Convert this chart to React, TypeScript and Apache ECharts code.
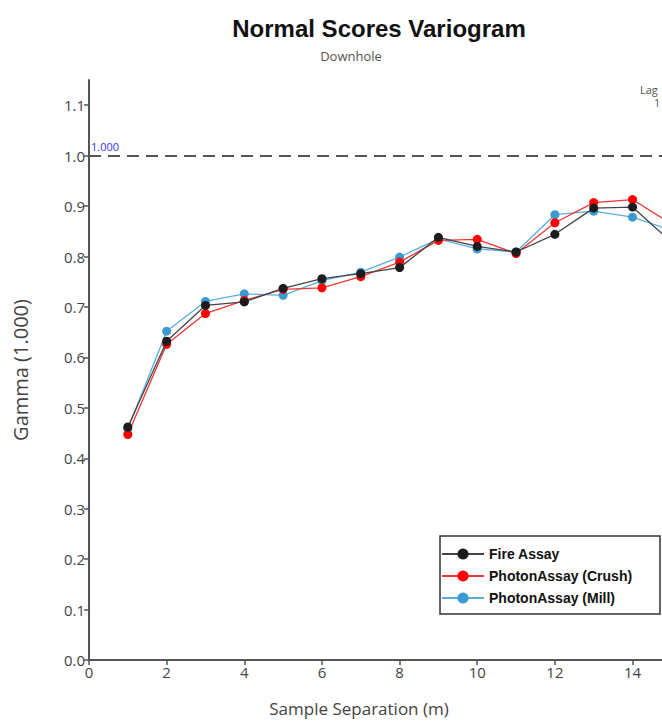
import React, { useEffect, useRef } from "react";
import * as echarts from "echarts";

const lags = [1, 2, 3, 4, 5, 6, 7, 8, 9, 10, 11, 12, 13, 14, 15];
const fireAssay = [0.462, 0.632, 0.703, 0.710, 0.737, 0.756, 0.766, 0.778, 0.838, 0.820, 0.809, 0.844, 0.896, 0.898, 0.829];
const photonCrush = [0.447, 0.626, 0.687, 0.713, 0.735, 0.738, 0.760, 0.789, 0.832, 0.834, 0.806, 0.867, 0.907, 0.913, 0.865];
const photonMill = [0.458, 0.652, 0.711, 0.726, 0.723, 0.752, 0.769, 0.799, 0.835, 0.815, 0.809, 0.883, 0.890, 0.878, 0.852];
const yTicks = [0, 0.1, 0.2, 0.3, 0.4, 0.5, 0.6, 0.7, 0.8, 0.9, 1.0, 1.1];
const xTicks = [0, 2, 4, 6, 8, 10, 12, 14];
const sill = 1.0;

const FONT = "'Open Sans', 'Noto Sans', sans-serif";
const BOLD = "'Liberation Sans', Arial, sans-serif";

export default function App() {
  const ref = useRef<HTMLDivElement>(null);
  useEffect(() => {
    if (!ref.current) return;
    const chart = echarts.init(ref.current, undefined, { renderer: "svg" });
    const mk = (name: string, data: number[], color: string, lineColor: string, z: number) => ({
      name,
      type: "line",
      data: lags.map((l, i) => [l, data[i]]),
      symbol: "circle",
      symbolSize: 9,
      z,
      itemStyle: { color },
      lineStyle: { color: lineColor, width: 1.3 },
    });
    chart.setOption({
      animation: false,
      backgroundColor: "#fff",
      grid: { left: 89, top: 80, height: 580, width: 660 },
      xAxis: {
        type: "value",
        min: 0,
        max: 17,
        interval: 2,
        splitLine: { show: false },
        axisLine: { onZero: false, lineStyle: { color: "#555", width: 2 } },
        axisTick: { show: true, length: 5, customValues: xTicks, lineStyle: { color: "#555", width: 1.5 } },
        axisLabel: { customValues: xTicks, color: "#444", fontSize: 15, fontFamily: FONT, margin: 4 },
      },
      yAxis: {
        type: "value",
        min: 0,
        max: 1.15,
        interval: 0.1,
        splitLine: { show: false },
        axisLine: { show: true, lineStyle: { color: "#555", width: 2 } },
        axisTick: { show: true, length: 5, customValues: yTicks, lineStyle: { color: "#555", width: 1.5 } },
        axisLabel: {
          customValues: yTicks,
          color: "#444",
          fontSize: 15,
          fontFamily: FONT,
          margin: 4,
          formatter: (v: number) => v.toFixed(1),
        },
      },
      legend: {
        left: 441,
        top: 547,
        orient: "vertical",
        itemWidth: 42,
        itemHeight: 14,
        itemGap: 8,
        padding: 0,
        data: ["Fire Assay", "PhotonAssay (Crush)", "PhotonAssay (Mill)"],
        textStyle: { fontFamily: BOLD, fontWeight: "bold", fontSize: 14, color: "#111" },
      },
      graphic: [
        { type: "text", style: { text: "Normal Scores Variogram", x: 379, y: 16, align: "center", font: `bold 24px ${BOLD}`, fill: "#111" } },
        { type: "text", style: { text: "Downhole", x: 351, y: 49, align: "center", font: `13px ${FONT}`, fill: "#555" } },
        { type: "text", style: { text: "Sample Separation (m)", x: 359, y: 700, align: "center", font: `17px ${FONT}`, fill: "#444" } },
        { type: "text", x: 20, y: 370, rotation: Math.PI / 2, style: { text: "Gamma (1.000)", x: 0, y: 0, align: "center", verticalAlign: "middle", font: `20px ${FONT}`, fill: "#444" } },
        { type: "text", style: { text: "Lag", x: 640, y: 84, font: `11px ${FONT}`, fill: "#555" } },
        { type: "text", style: { text: "1", x: 654, y: 97, font: `11px ${FONT}`, fill: "#555" } },
        { type: "rect", shape: { x: 440, y: 536, width: 220, height: 78 }, style: { fill: "none", stroke: "#333", lineWidth: 1.5 }, z: 10 },
      ],
      series: [
        {
          ...mk("PhotonAssay (Mill)", photonMill, "#3b9ad0", "#5aaede", 2),
          markLine: {
            silent: true,
            symbol: "none",
            data: [{ yAxis: sill }],
            lineStyle: { color: "#555", type: [12, 7], width: 2 },
            label: { show: true, position: "insideStartTop", formatter: "1.000", color: "#3333ff", fontSize: 11, fontFamily: FONT, distance: [2, 4] },
          },
        },
        mk("PhotonAssay (Crush)", photonCrush, "#ff0000", "#f03535", 3),
        mk("Fire Assay", fireAssay, "#1c1c1c", "#444", 4),
      ],
    });
    return () => chart.dispose();
  }, []);
  return (
    <div style={{ position: "absolute", left: 0, top: 0, width: 662, height: 722, overflow: "hidden", background: "#fff" }}>
      <div ref={ref} style={{ width: 760, height: 722 }} />
    </div>
  );
}
